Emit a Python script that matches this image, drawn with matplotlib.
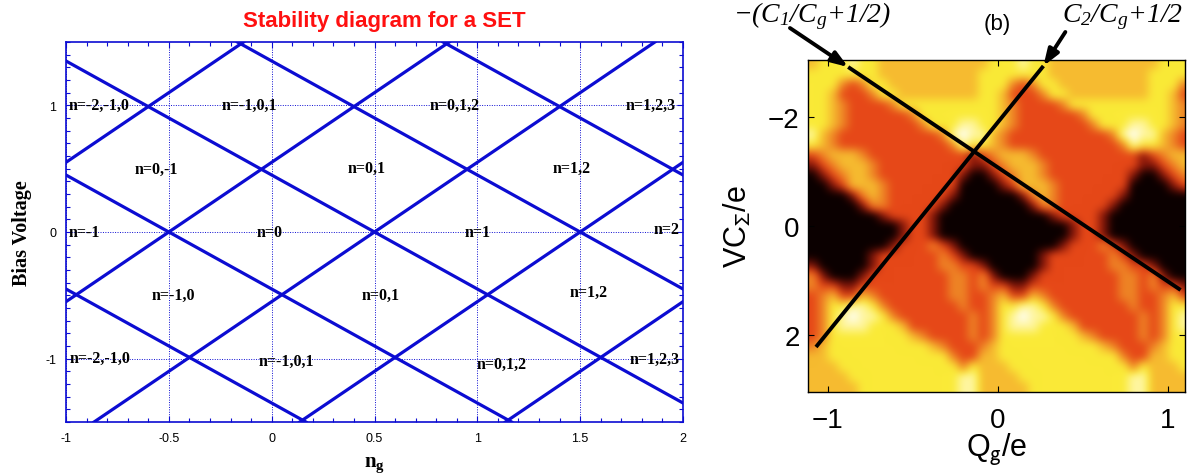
import matplotlib
matplotlib.use("Agg")
import matplotlib.pyplot as plt
import numpy as np
from matplotlib.colors import LinearSegmentedColormap
from matplotlib.ticker import MultipleLocator

plt.rcParams["font.family"] = ["Liberation Sans", "DejaVu Sans"]
plt.rcParams["mathtext.fontset"] = "custom"
plt.rcParams["mathtext.rm"] = "Liberation Serif:italic"
plt.rcParams["mathtext.it"] = "Liberation Serif:italic"
plt.rcParams["mathtext.bf"] = "Liberation Serif:bold"

# ---------------- (a) stability diagram ----------------
degeneracy_ng = [-1.5, -0.5, 0.5, 1.5, 2.5]   # gate charges where the edges meet at V = 0
edge_slope_rise = 1.1
edge_slope_fall = -0.9
ng_ticks = [-1, -0.5, 0, 0.5, 1, 1.5, 2]
ng_tick_labels = ["-1", "-0.5", "0", "0.5", "1", "1.5", "2"]
bias_ticks = [-1, 0, 1]
bias_tick_labels = ["-1", "0", "1"]

region_labels = ["n=-2,-1,0", "n=-1,0,1", "n=0,1,2", "n=1,2,3",
                 "n=0,-1", "n=0,1", "n=1,2",
                 "n=-1", "n=0", "n=1", "n=2",
                 "n=-1,0", "n=0,1", "n=1,2",
                 "n=-2,-1,0", "n=-1,0,1", "n=0,1,2", "n=1,2,3"]
region_ng = [-0.84, -0.11, 0.89, 1.84,
             -0.56, 0.46, 1.46,
             -0.91, -0.01, 1.0, 1.92,
             -0.48, 0.53, 1.54,
             -0.835, 0.07, 1.12, 1.86]
region_bias = [1.0, 1.0, 1.0, 1.0,
               0.5, 0.51, 0.51,
               0.0, 0.0, 0.0, 0.02,
               -0.5, -0.5, -0.47,
               -0.99, -1.02, -1.04, -1.0]

# ---------------- (b) measured current map ----------------
# current level per cell: 0 blockade ... 7 maximum
current_levels = [
    "45556554444444444" "45556554444444444" "4555",
    "55555554444444444" "55555554444444444" "5555",
    "55532355444444444" "55532355444444444" "5553",
    "55422235544444444" "55422235544444444" "5542",
    "55432222355555555" "55432222355555555" "5543",
    "55432222223555555" "55432222223555555" "5543",
    "55432222222355566" "55432222222355566" "5543",
    "64322222222223676" "64322222222223676" "6432",
    "54322222222222365" "54322222222222365" "5432",
    "23444322222222221" "23444322222222221" "2344",
    "12344432222222221" "12344432222222221" "1234",
    "01234432222222210" "01234432222222210" "0123",
    "00124443222222200" "00124443222222200" "0012",
    "00001343222222100" "00001343222222100" "0000",
    "00000133222221000" "00000133222221000" "0000",
    "00000001222210000" "00000001222210000" "0000",
    "00000000012210000" "00000000012210000" "0000",
    "00000000012210000" "00000000012210000" "0000",
    "00000000122232100" "00000000122232100" "0000",
    "00000012222223210" "00000012222223210" "0000",
    "10000012222223322" "10000012222223322" "1000",
    "31000122222222332" "31000122222222332" "3100",
    "32211222222222332" "32211222222222332" "3221",
    "23422432222222332" "23422432222222332" "2342",
    "23556653222222232" "23556653222222232" "2355",
    "23567665322222223" "23567665322222223" "2356",
    "23566655542222223" "23566655542222223" "2356",
    "23555555554322223" "23555555554322223" "2355",
    "34555555555543222" "34555555555543222" "3455",
    "44555555555555322" "44555555555555322" "4455",
    "44455555555555535" "44455555555555535" "4445",
    "44445555555555566" "44445555555555566" "4444",
    "44444555555555566" "44444555555555566" "4444",
]
level_colors = ["#0b0000", "#86160a", "#e64818", "#ef8526",
                "#f6bb30", "#fbeb38", "#fff6a0", "#ffffff"]
qg_edges = [-1.1147, 1.1206]
v_edges = [-3.046, 3.046]
qg_ticks = [-1, 0, 1]
qg_tick_labels = ["\u22121", "0", "1"]
vc_ticks = [-2, 0, 2]
vc_tick_labels = ["\u22122", "0", "2"]

# guide lines: text anchor, arrow tip on the frame, far end
guide_left_qg = [-1.221, -0.879, 1.074]
guide_left_v = [-3.633, -2.917, 1.174]
guide_right_qg = [0.397, 0.268, -1.068]
guide_right_v = [-3.56, -2.936, 2.22]


def soft_focus(image, dpi):
    """Gaussian soften of the rendered map (the scan is smooth, not cell-like)."""
    sigma = 3.4 * dpi / 100.0
    r = int(3 * sigma) + 1
    k = np.exp(-0.5 * (np.arange(-r, r + 1) / sigma) ** 2)
    k /= k.sum()
    h, w = image.shape[:2]
    padded = np.pad(image, ((r, r), (r, r), (0, 0)), mode="edge")
    tmp = np.zeros((h + 2 * r, w, image.shape[2]))
    for i, wt in enumerate(k):
        tmp += wt * padded[:, i:i + w]
    out = np.zeros((h, w, image.shape[2]))
    for i, wt in enumerate(k):
        out += wt * tmp[i:i + h]
    return out, 0, 0


fig = plt.figure(figsize=(11.94, 4.77), dpi=100)

# ---- left panel ----
blue = "#0c0cd2"
ax = fig.add_axes([0.05528, 0.11321, 0.51675, 0.79665])
ax.set_axisbelow(True)
for d in degeneracy_ng:
    ax.axline((d, 0.0), slope=edge_slope_rise, color=blue, lw=2.3)
    ax.axline((d, 0.0), slope=edge_slope_fall, color=blue, lw=2.3)
ax.set_xlim(-1, 2)
ax.set_ylim(-1.5, 1.5)
ax.set_xticks(ng_ticks)
ax.set_xticklabels(ng_tick_labels)
ax.set_yticks(bias_ticks)
ax.set_yticklabels(bias_tick_labels)
ax.xaxis.set_minor_locator(MultipleLocator(0.1))
ax.yaxis.set_minor_locator(MultipleLocator(0.1))
ax.tick_params(which="both", direction="in", top=True, right=True,
               color=blue, labelcolor="black", labelsize=9)
ax.tick_params(which="major", length=4, width=0.8)
ax.tick_params(which="minor", length=3, width=0.8)
ax.tick_params(axis="x", pad=7)
ax.tick_params(axis="y", pad=7)
ax.grid(True, which="major", color=blue, linestyle=(0, (1, 1.5)), lw=0.7)
for s in ax.spines.values():
    s.set_color(blue)
    s.set_linewidth(1.2)

for lab, x, y in zip(region_labels, region_ng, region_bias):
    ax.text(x, y, lab, ha="center", va="center", fontfamily="Liberation Serif",
            fontweight="bold", fontsize=11.5, color="black")

ax.set_xlabel(r"$\mathbf{n}_\mathbf{g}$", fontsize=15, math_fontfamily="custom")
ax.xaxis.set_label_coords(0.5, -0.11)
ax.xaxis.label.set_va("center")
ax.set_ylabel("Bias Voltage", fontfamily="Liberation Serif", fontweight="bold", fontsize=14.5)
ax.yaxis.set_label_coords(-0.071, 0.5)
ax.yaxis.label.set_va("center")

fig.text(384.5 / 1194, 0.943, "Stability diagram for a SET", color="#ff1010",
         fontweight="bold", fontsize=16, ha="center", va="baseline")

# ---- right panel ----
axr = fig.add_axes([0.67672, 0.17610, 0.31575, 0.69602])
levels = np.array([[int(c) for c in row] for row in current_levels], dtype=float)
cmap = LinearSegmentedColormap.from_list("set_current", level_colors)
im = axr.imshow(levels, cmap=cmap, vmin=0, vmax=len(level_colors) - 1,
                extent=[qg_edges[0], qg_edges[1], v_edges[1], v_edges[0]],
                origin="upper", interpolation="bilinear", interpolation_stage="data",
                aspect="auto")
im.set_agg_filter(soft_focus)
axr.set_xlim(-1.115, 1.10)
axr.set_ylim(3.046, -3.046)

axr.plot(guide_left_qg[1:], guide_left_v[1:], color="black", lw=2.8, solid_capstyle="butt")
axr.plot(guide_right_qg[1:], guide_right_v[1:], color="black", lw=2.8, solid_capstyle="butt")
for gq, gv in ((guide_left_qg, guide_left_v), (guide_right_qg, guide_right_v)):
    axr.annotate("", xy=(gq[1], gv[1]), xytext=(gq[0], gv[0]),
                 arrowprops=dict(arrowstyle="-|>,head_length=0.7,head_width=0.25",
                                 lw=2.8, color="black", shrinkA=0, shrinkB=0,
                                 mutation_scale=14),
                 annotation_clip=False)

axr.set_xticks(qg_ticks)
axr.set_xticklabels(qg_tick_labels)
axr.set_yticks(vc_ticks)
axr.set_yticklabels(vc_tick_labels)
axr.tick_params(direction="in", top=True, right=True, length=4, width=0.8, labelsize=20)
axr.tick_params(axis="x", pad=11)
axr.tick_params(axis="y", pad=6)
for s in axr.spines.values():
    s.set_linewidth(1.0)
    s.set_zorder(5)

axr.set_xlabel(r"Q$_\mathrm{g}$/e", fontsize=22, math_fontfamily="stixsans")
axr.xaxis.set_label_coords(0.5, -0.172)
axr.xaxis.label.set_va("center")
axr.set_ylabel(r"VC$_\Sigma$/e", fontsize=22, math_fontfamily="stixsans")
axr.yaxis.set_label_coords(-0.185, 0.5)
axr.yaxis.label.set_va("center")

axr.text(-1.556, -3.76, r"$-(C_1/C_g{+}1/2)$", fontsize=20, ha="left", va="baseline",
         math_fontfamily="custom")
axr.text(0.379, -3.76, r"$C_2/C_g{+}1/2$", fontsize=20, ha="left", va="baseline",
         math_fontfamily="custom")
fig.text(0.835, 0.9476, "(b)", fontsize=16, ha="center", va="center")

fig.savefig("out.png", dpi=100)
